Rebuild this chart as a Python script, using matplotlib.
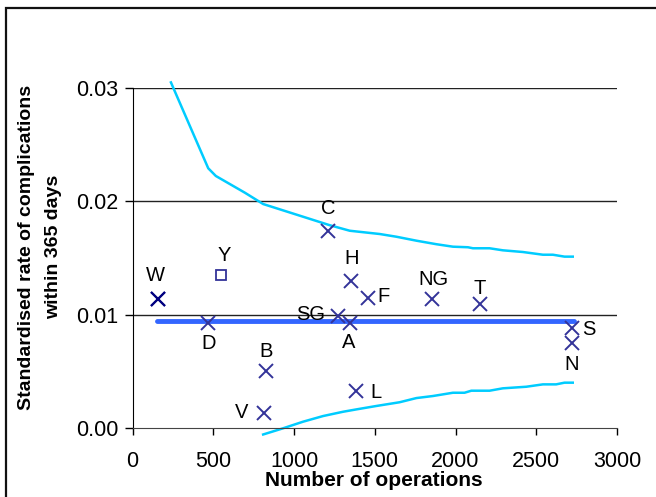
import matplotlib
matplotlib.use("Agg")
import matplotlib.pyplot as plt
from matplotlib.patches import Rectangle

plt.rcParams['font.family'] = ['Liberation Sans', 'DejaVu Sans']

# Hospitals: number of operations and standardised complication rate
hospitals = ["W", "D", "V", "B", "C", "H", "F", "SG", "A", "L", "NG", "T", "S", "N"]
operations = [160, 465, 815, 826, 1211, 1356, 1458, 1273, 1345, 1386, 1854, 2149, 2720, 2720]
rates = [0.01135, 0.00928, 0.00133, 0.00501, 0.01741, 0.0130, 0.01144,
         0.00987, 0.00928, 0.00327, 0.0114, 0.01091, 0.00879, 0.00746]

# Hospital Y plotted with a separate (square) symbol
y_hospital = "Y"
y_operations = 545
y_rate = 0.0135

# Overall mean rate
mean_rate = 0.00946
mean_range = [150, 2732]

# Upper control limit
upper_x = [238, 469, 516, 696, 809, 1221, 1345, 1531, 1634, 1758, 1881, 1984,
           2077, 2108, 2211, 2293, 2417, 2541, 2603, 2675, 2726]
upper_y = [0.03052, 0.02293, 0.02225, 0.02077, 0.01977, 0.0179, 0.01741, 0.01712,
           0.01688, 0.01653, 0.01622, 0.0160, 0.01595, 0.01586, 0.01586, 0.01568,
           0.01553, 0.01529, 0.01529, 0.01512, 0.01512]

# Lower control limit
lower_x = [809, 933, 1056, 1180, 1304, 1387, 1510, 1654, 1758, 1860, 1984, 2056,
           2098, 2211, 2293, 2438, 2541, 2623, 2675, 2726]
lower_y = [-0.0006, -0.00005, 0.00053, 0.00103, 0.00141, 0.00162, 0.00192, 0.00225,
           0.00262, 0.0028, 0.00309, 0.00309, 0.00327, 0.00327, 0.00348, 0.00362,
           0.00383, 0.00383, 0.00398, 0.00398]

x_ticks = [0, 500, 1000, 1500, 2000, 2500, 3000]
y_ticks = [0.00, 0.01, 0.02, 0.03]

# label offsets in points (dx, dy) relative to each marker
label_offsets = {
    "W": (-2, 17), "D": (1, -15), "V": (-16, 0), "B": (0, 14), "C": (0, 16),
    "H": (0, 16), "F": (11, 1), "SG": (-20, 1), "A": (-1, -14), "L": (14, -1),
    "NG": (1, 14), "T": (0, 11), "S": (12, -1), "N": (0, -15),
    "Y": (3, 14),
}

W, H = 656, 497
fig = plt.figure(figsize=(W / 100, H / 100), dpi=100)
ax = fig.add_axes([132.5 / W, 1 - 427.7 / H, (617 - 132.5) / W, (427.7 - 88.3) / H])

ax.set_xlim(0, 3000)
ax.set_ylim(0, 0.03)

for yv in y_ticks[1:]:
    ax.axhline(yv, color="#222222", lw=1.0, zorder=1)

ax.plot(upper_x, upper_y, color="#00CCFF", lw=1.8, clip_on=False, zorder=2)
ax.plot(lower_x, lower_y, color="#00CCFF", lw=1.8, clip_on=False, zorder=2)
ax.plot(mean_range, [mean_rate, mean_rate], color="#3366FF", lw=3.5,
        solid_capstyle="round", zorder=3)

ax.plot(operations, rates, linestyle="none", marker="x", markersize=9.5,
        markeredgewidth=1.4, color="#333399", zorder=4)
ax.plot(operations[:1], rates[:1], linestyle="none", marker="x", markersize=9.5,
        markeredgewidth=1.6, color="#000080", zorder=5)
ax.plot([y_operations], [y_rate], linestyle="none", marker="s", markersize=7.5,
        markeredgewidth=1.3, markerfacecolor="none", markeredgecolor="#333399", zorder=4)

for name, xv, yv in zip(hospitals + [y_hospital], operations + [y_operations], rates + [y_rate]):
    dx, dy = label_offsets[name]
    ax.annotate(name, (xv, yv), xytext=(dx, dy), textcoords="offset points",
                ha="center", va="center", fontsize=14.5, color="black",
                annotation_clip=False)

for side in ("top", "right"):
    ax.spines[side].set_visible(False)
ax.spines["left"].set_color("black")
ax.spines["bottom"].set_color("#444444")

ax.set_xticks(x_ticks)
ax.set_xticklabels([str(v) for v in x_ticks])
ax.set_yticks(y_ticks)
ax.set_yticklabels([f"{v:.2f}" for v in y_ticks])
ax.tick_params(axis="x", direction="out", length=5, width=1, pad=12, labelsize=15.5)
ax.tick_params(axis="y", direction="out", length=6, width=1, pad=4, labelsize=15.5)

fig.text(374 / W, 1 - 481 / H, "Number of operations", ha="center", va="center",
         fontsize=15, fontweight="bold")
fig.text(40 / W, 1 - 247 / H, "Standardised rate of complications\nwithin 365 days",
         ha="center", va="center", rotation=90, fontsize=14, fontweight="bold",
         linespacing=1.8)

fig.patches.append(Rectangle((6 / W, -1), 2, 1 + (1 - 8 / H), transform=fig.transFigure,
                             fill=False, edgecolor="#111111", lw=1.6))

fig.savefig("out.png", dpi=100)
